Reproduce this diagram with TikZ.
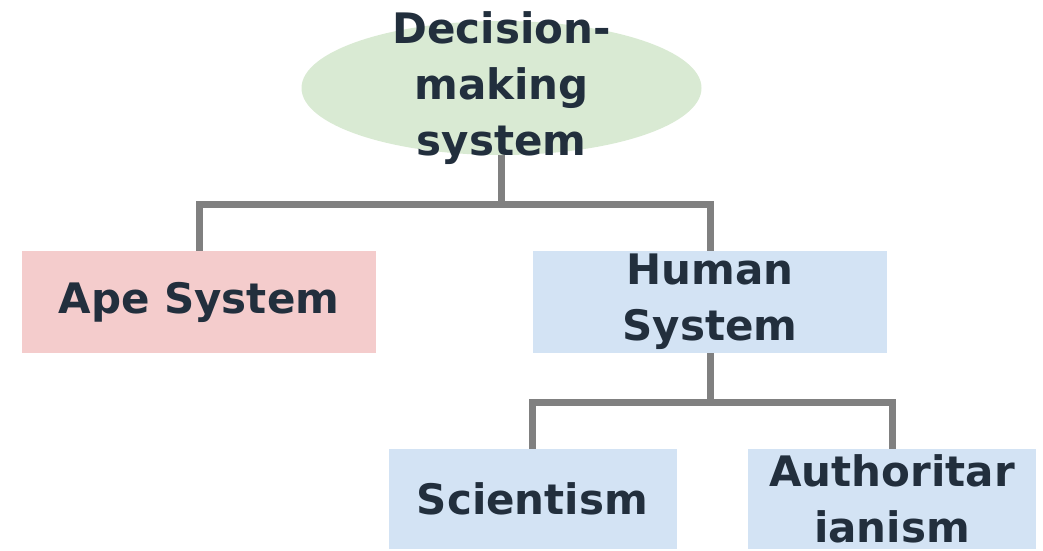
\documentclass[tikz,border=0pt]{standalone}
\usepackage{fontspec}
\setmainfont{DejaVu Sans}
\usetikzlibrary{shapes.geometric}
\definecolor{ellfill}{HTML}{D9EAD3}
\definecolor{redfill}{HTML}{F4CCCC}
\definecolor{bluefill}{HTML}{D3E3F4}
\definecolor{txtcol}{HTML}{222F3D}
\definecolor{linecol}{HTML}{808080}
\pgfdeclarelayer{background}
\pgfsetlayers{background,main}
\tikzset{
  lbl/.style={font=\bfseries\fontsize{42}{56}\selectfont, text=txtcol, align=center, inner sep=0pt},
  box/.style={rectangle, inner sep=0pt, minimum height=102pt},
  conn/.style={draw=linecol, line width=7pt}
}
\begin{document}
\begin{tikzpicture}[x=1pt,y=1pt]
\useasboundingbox (0,0) rectangle (1043,-550);
\node[ellipse, fill=ellfill, inner sep=0pt, minimum width=400pt, minimum height=134pt] (root) at (501.5,-88) {};
\node[box, fill=redfill, minimum width=354pt] (ape) at (199,-302) {};
\node[box, fill=bluefill, minimum width=354pt] (human) at (710,-302) {};
\node[box, fill=bluefill, minimum width=288pt, minimum height=100pt] (sci) at (532.5,-499) {};
\node[box, fill=bluefill, minimum width=288pt, minimum height=100pt] (auth) at (892,-499) {};
\begin{pgfonlayer}{background}
\draw[conn] (root.south) |- ++(0,-49) coordinate (j1) -| (ape.north);
\draw[conn] (j1) -| (human.north);
\draw[conn] (human.south) |- ++(0,-49) coordinate (j2) -| (sci.north);
\draw[conn] (j2) -| (auth.north);
\end{pgfonlayer}
\node[lbl] (roottxt) at (501.5,-88) {Decision-\\making\\system};
\node[lbl] (apetxt) at (ape.center) {Ape System};
\node[lbl] (humantxt) at (human.center) {Human\\System};
\node[lbl] (scitxt) at (sci.center) {Scientism};
\node[lbl] (authtxt) at (auth.center) {Authoritar\\ianism};
\end{tikzpicture}
\end{document}
